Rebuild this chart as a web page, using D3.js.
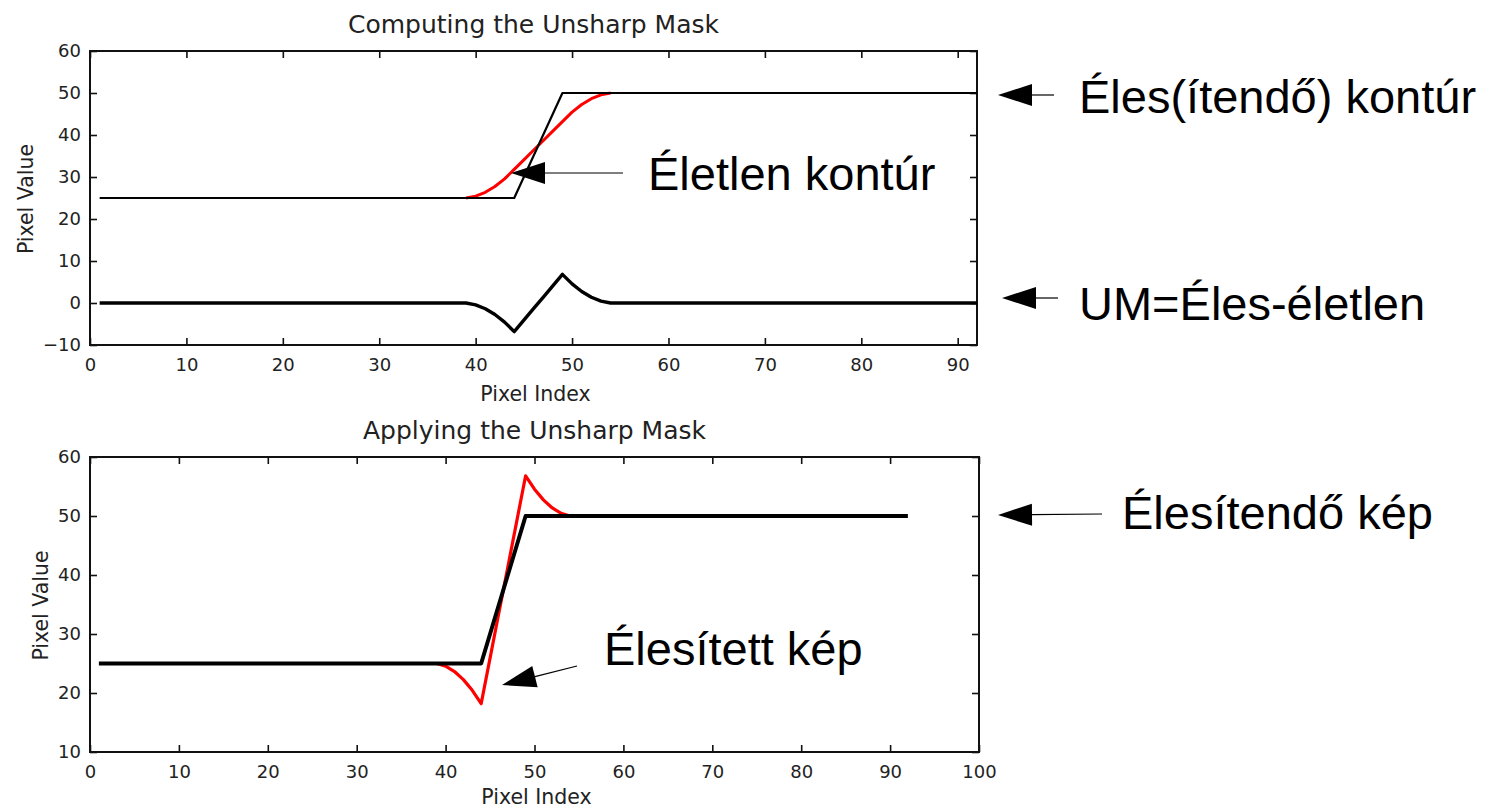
<!DOCTYPE html>
<html>
<head>
<meta charset="utf-8">
<script src="https://cdn.jsdelivr.net/npm/d3@7"></script>
<style>
  body { margin: 0; background: #fff; }
  svg { display: block; }
  .tick text { font-family: 'DejaVu Sans', sans-serif; font-size: 18px; fill: #222; }
</style>
</head>
<body>
<svg width="1499" height="811"></svg>
<script>
// sharp (ideal) edge, pixel index -> value
const sharpIndex = [1, 44, 45, 46, 47, 48, 49, 92];
const sharpValue = [25, 25, 30, 35, 40, 45, 50, 50];

// region around the edge, where blurred / sharpened differ
const edgeIndex = [39, 40, 41, 42, 43, 44, 45, 46, 47, 48, 49, 50, 51, 52, 53, 54];
const blurredValue = [25, 25.45, 26.36, 27.73, 29.55, 31.82, 34.09, 36.36, 38.64, 40.91, 43.18, 45.45, 47.27, 48.64, 49.55, 50];
const sharpenedValue = [25, 24.55, 23.64, 22.27, 20.45, 18.18, 25.91, 33.64, 41.36, 49.09, 56.82, 54.55, 52.73, 51.36, 50.45, 50];

// unsharp mask = sharp - blurred
const maskIndex = [1, 39, 40, 41, 42, 43, 44, 45, 46, 47, 48, 49, 50, 51, 52, 53, 54, 92];
const maskValue = [0, 0, -0.45, -1.36, -2.73, -4.55, -6.82, -4.09, -1.36, 1.36, 4.09, 6.82, 4.55, 2.73, 1.36, 0.45, 0, 0];

const topXTicks = [0, 10, 20, 30, 40, 50, 60, 70, 80, 90];
const topYTicks = [-10, 0, 10, 20, 30, 40, 50, 60];
const botXTicks = [0, 10, 20, 30, 40, 50, 60, 70, 80, 90, 100];
const botYTicks = [10, 20, 30, 40, 50, 60];

const zip = (xs, ys) => xs.map((x, i) => ({x: x, y: ys[i]}));

const svg = d3.select('svg');
svg.append('rect').attr('width', 1499).attr('height', 811).attr('fill', '#fff');

function panel(opt) {
  const x = d3.scaleLinear().domain(opt.xDomain).range([opt.left, opt.right]);
  const y = d3.scaleLinear().domain(opt.yDomain).range([opt.bottom, opt.top]);
  const g = svg.append('g');

  // axes, ticks point inwards on all four sides
  g.append('g')
      .attr('transform', 'translate(0,' + opt.bottom + ')')
      .call(d3.axisBottom(x).tickValues(opt.xTicks).tickSizeInner(-7).tickSizeOuter(0).tickPadding(13))
    .select('.domain').remove();
  g.append('g')
      .attr('transform', 'translate(0,' + opt.top + ')')
      .call(d3.axisTop(x).tickValues(opt.xTicks).tickSizeInner(-7).tickSizeOuter(0).tickFormat(''))
    .select('.domain').remove();
  g.append('g')
      .attr('transform', 'translate(' + opt.left + ',0)')
      .call(d3.axisLeft(y).tickValues(opt.yTicks).tickSizeInner(-7).tickSizeOuter(0).tickPadding(9).tickFormat(d => d < 0 ? '\u2212' + (-d) : d))
    .select('.domain').remove();
  g.append('g')
      .attr('transform', 'translate(' + opt.right + ',0)')
      .call(d3.axisRight(y).tickValues(opt.yTicks).tickSizeInner(-7).tickSizeOuter(0).tickFormat(''))
    .select('.domain').remove();
  g.selectAll('.tick line').attr('stroke', '#111').attr('stroke-width', 1.6);

  g.append('rect')
      .attr('x', opt.left).attr('y', opt.top)
      .attr('width', opt.right - opt.left).attr('height', opt.bottom - opt.top)
      .attr('fill', 'none').attr('stroke', '#111').attr('stroke-width', 2);

  const line = d3.line().x(d => x(d.x)).y(d => y(d.y));
  opt.series.forEach(s => {
    g.append('path')
        .attr('d', line(s.data))
        .attr('fill', 'none')
        .attr('stroke', s.color)
        .attr('stroke-width', s.width)
        .attr('stroke-linejoin', 'round');
  });

  // title and axis labels
  g.append('text')
      .attr('x', (opt.left + opt.right) / 2).attr('y', opt.top - 18)
      .attr('text-anchor', 'middle')
      .style('font-family', 'DejaVu Sans').style('font-size', '25px').attr('fill', '#222')
      .text(opt.title);
  g.append('text')
      .attr('x', (opt.left + opt.right) / 2 + 2).attr('y', opt.bottom + opt.xLabelDy)
      .attr('text-anchor', 'middle')
      .style('font-family', 'DejaVu Sans').style('font-size', '20.5px').attr('fill', '#222')
      .text('Pixel Index');
  g.append('text')
      .attr('transform', 'translate(' + opt.yLabelX + ',' + ((opt.top + opt.bottom) / 2 + 1) + ') rotate(-90)')
      .attr('text-anchor', 'middle')
      .style('font-family', 'DejaVu Sans').style('font-size', '20.5px').attr('fill', '#222')
      .text('Pixel Value');
}

panel({
  left: 90, right: 977, top: 51, bottom: 345,
  xDomain: [0, 92], yDomain: [-10, 60],
  xTicks: topXTicks, yTicks: topYTicks,
  yLabelX: 33, xLabelDy: 56,
  title: 'Computing the Unsharp Mask',
  series: [
    {data: zip(edgeIndex, blurredValue), color: '#ff0000', width: 3},
    {data: zip(sharpIndex, sharpValue), color: '#000', width: 2.2},
    {data: zip(maskIndex, maskValue), color: '#000', width: 3.4}
  ]
});

panel({
  left: 90, right: 979, top: 457, bottom: 752,
  xDomain: [0, 100], yDomain: [10, 60],
  xTicks: botXTicks, yTicks: botYTicks,
  yLabelX: 48, xLabelDy: 52,
  title: 'Applying the Unsharp Mask',
  series: [
    {data: zip(edgeIndex, sharpenedValue), color: '#ff0000', width: 3.2},
    {data: zip(sharpIndex, sharpValue), color: '#000', width: 4}
  ]
});

// annotations: arrow tip, tail end, text anchor
const notes = [
  {text: 'Éles(ítendő) kontúr', tip: [998, 95], tail: [1054, 95], tx: 1079, ty: 113},
  {text: 'Életlen kontúr', tip: [511, 173], tail: [623, 173], tx: 648, ty: 190},
  {text: 'UM=Éles-életlen', tip: [1002, 298], tail: [1058, 298], tx: 1079, ty: 320},
  {text: 'Élesítendő kép', tip: [998, 515], tail: [1102, 514], tx: 1122, ty: 529},
  {text: 'Élesített kép', tip: [502, 685], tail: [577, 666], tx: 604, ty: 665}
];

const ann = svg.append('g');
notes.forEach(n => {
  const dx = n.tail[0] - n.tip[0], dy = n.tail[1] - n.tip[1];
  const len = Math.sqrt(dx * dx + dy * dy);
  const ux = dx / len, uy = dy / len;
  const headLen = 34, headHalf = 11;
  const bx = n.tip[0] + ux * headLen, by = n.tip[1] + uy * headLen;
  ann.append('line')
      .attr('x1', bx).attr('y1', by).attr('x2', n.tail[0]).attr('y2', n.tail[1])
      .attr('stroke', '#000').attr('stroke-width', 1.2);
  ann.append('path')
      .attr('d', 'M' + n.tip[0] + ',' + n.tip[1] +
                 'L' + (bx - uy * headHalf) + ',' + (by + ux * headHalf) +
                 'L' + (bx + uy * headHalf) + ',' + (by - ux * headHalf) + 'Z')
      .attr('fill', '#000');
  ann.append('text')
      .attr('x', n.tx).attr('y', n.ty)
      .style('font-family', 'Liberation Sans, Arial, sans-serif').style('font-size', '47px')
      .attr('fill', '#000')
      .text(n.text);
});
</script>
</body>
</html>
